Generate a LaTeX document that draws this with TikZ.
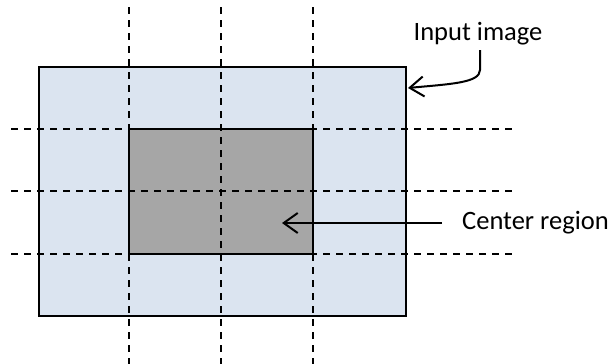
\documentclass[tikz,border=0pt]{standalone}
\usepackage{fontspec}
\setmainfont{Carlito}
\usetikzlibrary{arrows.meta}
\definecolor{imgblue}{HTML}{DBE4F0}
\definecolor{regiongray}{HTML}{A6A6A6}
\tikzset{
  box/.style={draw=black, line width=2pt},
  grid/.style={draw=black, line width=2pt, dash pattern=on 7pt off 6pt},
  callout/.style={draw=black, line width=2pt, -{Straight Barb[length=14pt, width=20pt, line width=2pt]}},
  label/.style={font=\fontsize{26.5}{28}\selectfont, inner sep=0pt}
}
\begin{document}
\begin{tikzpicture}[x=1pt, y=-1pt]
  \useasboundingbox (0,0) rectangle (611,364);
  % input image and its centre region
  \path[box, fill=imgblue] (39,67) rectangle (406,316);
  \path[box, fill=regiongray] (129,129) rectangle (313,254);
  % grid lines splitting the image
  \foreach \gx in {129,221,313} \path[grid] (\gx,7) -- (\gx,364);
  \foreach \gy in {129,191,254} \path[grid] (11,\gy) -- (517,\gy);
  % labels with their arrows
  \node[label, anchor=base] (inlbl) at (478,40) {Input image};
  \coordinate (intip) at (408,88);
  \draw[callout] (480,50) -- (480,70) .. controls (480,83) and (450,84) .. (intip);
  \node[label, anchor=base west] (ctrlbl) at (462,229) {Center region};
  \coordinate (ctrtip) at (282,223);
  \draw[callout] (442,223) -- (ctrtip);
\end{tikzpicture}
\end{document}
